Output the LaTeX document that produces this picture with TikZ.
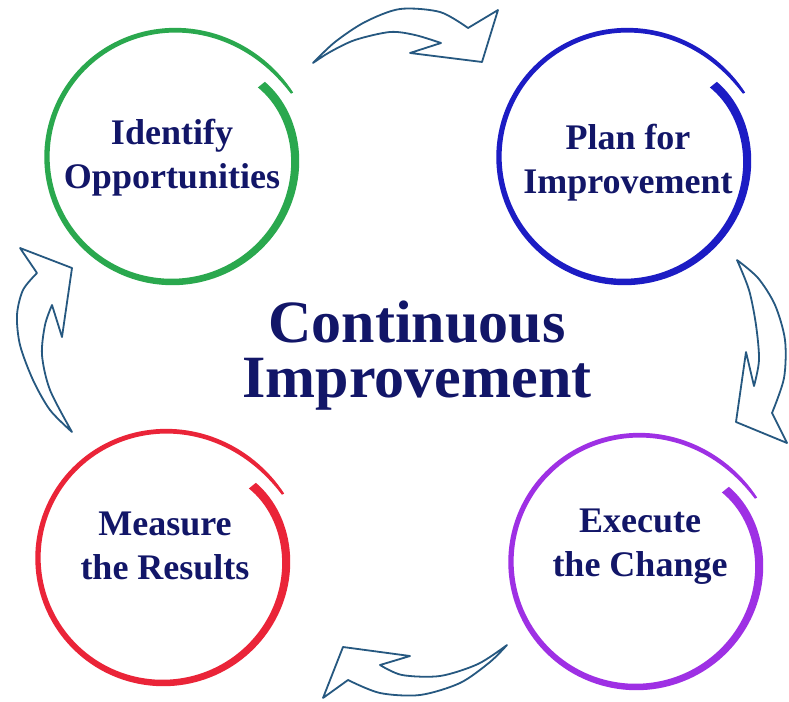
\documentclass[tikz,border=0pt]{standalone}
\usepackage{fontspec}
\setmainfont{Liberation Serif}
\usepackage{tikz}
\usetikzlibrary{positioning}
\definecolor{ringgreen}{RGB}{42,168,78}
\definecolor{ringblue}{RGB}{28,28,196}
\definecolor{ringred}{RGB}{234,36,56}
\definecolor{ringpurple}{RGB}{158,48,228}
\definecolor{labelnavy}{RGB}{18,22,104}
\definecolor{arrowline}{RGB}{38,88,128}
\tikzset{
  declare function={
    ringt(\a)=(39-\a)/371;
    ringr(\a)=125-10*(1-ringt(\a))^15+11*ringt(\a)^10;
    ringw(\a)=(4.6+4.4*(1-ringt(\a))^2)*(1-0.45*ringt(\a)^30);
  },
  ring label/.style={
    font=\fontsize{36}{44}\selectfont\bfseries,
    text=labelnavy,
    align=center,
    inner sep=0pt
  },
  title label/.style={
    font=\fontsize{60}{55}\selectfont\bfseries,
    text=labelnavy,
    align=center,
    inner sep=0pt
  },
  loop arrow/.style={
    draw=arrowline,
    fill=white,
    line width=1.8pt,
    line join=round
  }
}
% hand drawn ring: centre x, centre y, colour
\newcommand{\ringloop}[3]{%
  \fill[#3] plot[domain=39:-332,samples=160,variable=\a]
    ({#1+(ringr(\a)+ringw(\a)/2)*cos(\a)},{#2-(ringr(\a)+ringw(\a)/2)*sin(\a)})
    -- plot[domain=-332:39,samples=160,variable=\a]
    ({#1+(ringr(\a)-ringw(\a)/2)*cos(\a)},{#2-(ringr(\a)-ringw(\a)/2)*sin(\a)})
    -- cycle;}

\begin{document}
\begin{tikzpicture}[x=1pt,y=-1pt]
  \fill[white] (0,0) rectangle (789,701);
  \useasboundingbox (0,0) rectangle (789,701);

  % rings
  \ringloop{172}{157}{ringgreen}
  \ringloop{624}{157}{ringblue}
  \ringloop{636}{562}{ringpurple}
  \ringloop{163}{558}{ringred}

  % labels
  \node[ring label] (identify) at (172,158) {Identify\\Opportunities};
  \node[ring label] (plan) at (628,163) {Plan for\\Improvement};
  \node[ring label] (execute) at (640,547) {Execute\\the Change};
  \node[ring label] (measure) at (165,546) {Measure\\the Results};
  \node[title label] (title) at (417,356) {Continuous\\Improvement};

  % arrows between the rings
  \draw[loop arrow] plot[smooth] coordinates {(313,63) (335,42) (365,22) (400,9) (440,12) (468,28)}
    -- (498,10) -- (482,62) -- (410,53) -- (441,43)
    -- plot[smooth] coordinates {(441,43) (415,35) (390,32) (355,40) (330,52) (313,63)} -- cycle;
  \draw[loop arrow] plot[smooth] coordinates {(737,260) (758,278) (775,305) (785,340) (784,378) (772,413)}
    -- (787,443) -- (736,422) -- (746,352) -- (754,386)
    -- plot[smooth] coordinates {(754,386) (759,360) (756,325) (749,290) (737,260)} -- cycle;
  \draw[loop arrow] plot[smooth] coordinates {(507,645) (490,662) (460,683) (420,695) (380,693) (348,680)}
    -- (323,698) -- (343,647) -- (410,656) -- (380,665)
    -- plot[smooth] coordinates {(380,665) (402,675) (440,676) (478,664) (507,645)} -- cycle;
  \draw[loop arrow] plot[smooth] coordinates {(72,432) (50,410) (33,380) (20,345) (17,315) (23,290) (37,273)}
    -- (20,248) -- (72,268) -- (62,337) -- (52,305)
    -- plot[smooth] coordinates {(52,305) (45,325) (42,355) (50,390) (72,432)} -- cycle;
\end{tikzpicture}
\end{document}
